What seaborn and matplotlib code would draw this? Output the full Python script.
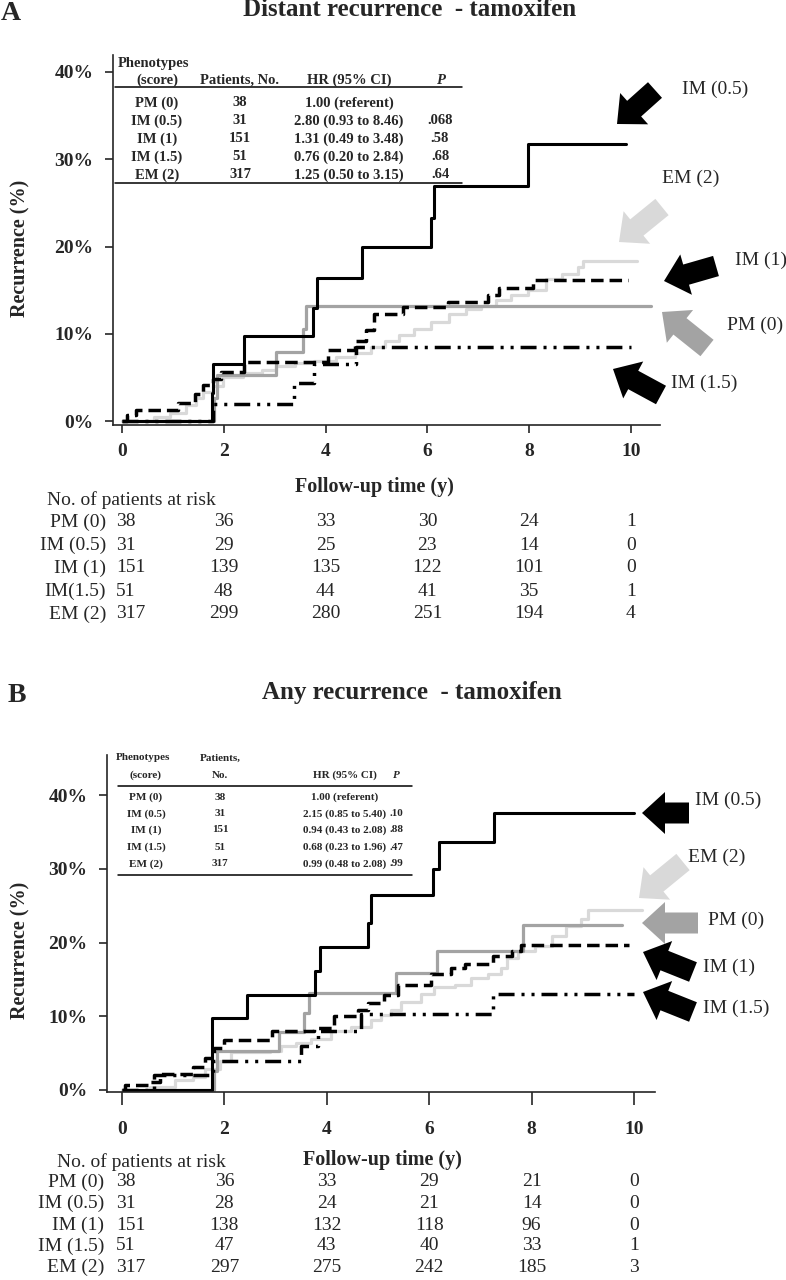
import matplotlib
matplotlib.use("Agg")
import numpy as np
import pandas as pd
import matplotlib.pyplot as plt
import matplotlib.transforms as mtrans
from matplotlib.patches import FancyArrow
import seaborn as sns

# ---------------- data ----------------
groups_a = ["PM (0)", "IM (0.5)", "IM (1)", "IM(1.5)", "EM (2)"]
groups_b = ["PM (0)", "IM (0.5)", "IM (1)", "IM (1.5)", "EM (2)"]
risk_years = [0, 2, 4, 6, 8, 10]
y_ticks = [0, 10, 20, 30, 40]

# Panel A: distant recurrence (years, cumulative %)
a_pm0_t = [0.50, 1.80, 1.86, 3.03, 3.56, 3.62, 10.39]
a_pm0_y = [0.0, 2.6, 5.3, 7.9, 10.5, 13.2, 13.2]
a_im05_t = [0.27, 1.76, 1.79, 2.40, 3.75, 3.84, 4.72, 6.08, 6.12, 7.97, 9.90]
a_im05_y = [0.0, 3.2, 6.5, 9.7, 12.9, 16.4, 19.9, 23.3, 26.9, 31.8, 31.8]
a_im1_t = [0.00, 0.09, 0.27, 1.11, 1.44, 1.60, 1.79, 1.95, 2.40, 4.05, 4.58, 4.79, 4.96, 5.52, 6.40, 7.20, 7.41, 8.08, 9.94]
a_im1_y = [0.0, 0.65, 1.3, 2.1, 3.1, 4.1, 4.8, 5.6, 6.8, 8.1, 9.2, 10.4, 12.3, 13.1, 13.6, 14.4, 15.3, 16.2, 16.2]
a_im15_t = [0.0, 1.78, 3.38, 3.77, 4.60, 10.0]
a_im15_y = [0.0, 2.0, 4.3, 6.5, 8.5, 8.5]
a_em2_t = [0.0, 0.62, 0.95, 1.25, 1.45, 1.60, 1.79, 1.98, 2.37, 2.75, 3.03, 3.40, 3.77, 4.20, 4.58, 4.90,
           5.17, 5.45, 5.73, 6.08, 6.43, 6.75, 7.06, 7.34, 7.65, 7.97, 8.33, 8.65, 8.96, 9.06, 10.11]
a_em2_y = [0.0, 0.5, 0.9, 1.8, 2.6, 3.3, 4.0, 5.0, 5.5, 5.9, 6.3, 6.6, 6.9, 7.3, 7.8, 8.5,
           9.2, 9.8, 10.5, 11.3, 12.3, 12.8, 13.2, 13.9, 14.4, 15.0, 16.3, 16.9, 17.6, 18.3, 18.3]

# Panel B: any recurrence
b_pm0_t = [0.50, 1.80, 1.86, 3.07, 3.56, 3.65, 5.35, 6.15, 7.83, 9.76]
b_pm0_y = [0.0, 2.6, 5.3, 7.9, 10.5, 13.2, 15.8, 18.9, 22.4, 22.4]
b_im05_t = [0.30, 1.76, 2.44, 3.77, 3.87, 4.80, 4.86, 6.08, 6.19, 7.27, 10.0]
b_im05_y = [0.0, 9.7, 12.9, 16.1, 19.4, 22.6, 26.5, 30.0, 33.6, 37.5, 37.5]
b_im1_t = [0.0, 0.06, 0.55, 0.75, 1.38, 1.63, 1.80, 1.99, 2.93, 3.75, 4.14, 4.60, 4.80, 5.12, 5.39, 6.04, 6.43, 6.69, 7.25, 7.61, 7.80, 9.90]
b_im1_y = [0.0, 0.7, 1.1, 2.2, 3.1, 4.4, 5.7, 6.8, 8.0, 8.4, 10.0, 10.9, 11.8, 12.9, 14.3, 15.7, 16.6, 17.1, 18.2, 18.9, 19.6, 19.6]
b_im15_t = [0.0, 0.62, 1.78, 3.49, 3.82, 4.67, 7.25, 10.0]
b_im15_y = [0.0, 2.0, 3.9, 5.9, 8.0, 10.3, 13.0, 13.0]
b_em2_t = [0.0, 0.55, 1.04, 1.38, 1.63, 1.92, 2.12, 2.50, 2.90, 3.10, 3.40, 3.69, 4.08, 4.48, 4.86, 5.05, 5.25,
           5.45, 5.84, 6.10, 6.50, 6.82, 7.15, 7.41, 7.51, 7.74, 8.07, 8.40, 8.68, 8.96, 9.10, 10.15]
b_em2_y = [0.0, 0.4, 1.3, 1.8, 2.9, 4.0, 5.1, 5.2, 5.3, 6.0, 6.4, 6.9, 8.0, 8.6, 9.5, 10.2, 10.9,
           12.0, 13.0, 13.9, 14.3, 15.2, 15.7, 16.6, 17.9, 18.9, 19.5, 20.9, 22.3, 23.2, 24.4, 24.4]

# Patients at risk
risk_a = [[38, 36, 33, 30, 24, 1],
          [31, 29, 25, 23, 14, 0],
          [151, 139, 135, 122, 101, 0],
          [51, 48, 44, 41, 35, 1],
          [317, 299, 280, 251, 194, 4]]
risk_b = [[38, 36, 33, 29, 21, 0],
          [31, 28, 24, 21, 14, 0],
          [151, 138, 132, 118, 96, 0],
          [51, 47, 43, 40, 33, 1],
          [317, 297, 275, 242, 185, 3]]

# Hazard-ratio tables
hr_patients = ["38", "31", "151", "51", "317"]
hr_a = ["1.00 (referent)", "2.80 (0.93 to 8.46)", "1.31 (0.49 to 3.48)", "0.76 (0.20 to 2.84)", "1.25 (0.50 to 3.15)"]
p_a = ["", ".068", ".58", ".68", ".64"]
hr_b = ["1.00 (referent)", "2.15 (0.85 to 5.40)", "0.94 (0.43 to 2.08)", "0.68 (0.23 to 1.96)", "0.99 (0.48 to 2.08)"]
p_b = ["", ".10", ".88", ".47", ".99"]

# ---------------- style ----------------
sns.set_theme(style="ticks")
plt.rcParams['font.family'] = ['Liberation Serif', 'DejaVu Serif']
plt.rcParams['lines.scale_dashes'] = False
plt.rcParams['axes.linewidth'] = 1.2

BLACK = "#000000"
GRAY = "#a3a3a3"
LIGHT = "#d9d9d9"
DASH = (0, (9, 4.3))
DASHDOT = (0, (11.5, 5, 2.2, 5, 2.2, 5))

W, H = 786, 1280
fig = plt.figure(figsize=(W / 100, H / 100), dpi=100)
fig.patch.set_facecolor("white")


def px_axes(l, t, r, b):
    return fig.add_axes([l / W, 1 - b / H, (r - l) / W, (b - t) / H])


ov = fig.add_axes([0, 0, 1, 1], zorder=10)
ov.set_xlim(0, W)
ov.set_ylim(H, 0)
ov.axis("off")
ov.patch.set_alpha(0)


def curve(ax, t, y, color, lw, ls):
    df = pd.DataFrame({"t": t, "y": y})
    sns.lineplot(data=df, x="t", y="y", ax=ax, drawstyle="steps-post", color=color,
                 linewidth=lw, linestyle=ls, estimator=None, sort=False, legend=False)


def arrow(tail, tip, color):
    ov.add_patch(FancyArrow(tail[0], tail[1], tip[0] - tail[0], tip[1] - tail[1], width=21,
                            head_width=42, head_length=23, length_includes_head=True,
                            color=color, lw=0))


def setup_axes(ax, xlim, ylim, xpad, xticklen):
    ax.set_xlim(*xlim)
    ax.set_ylim(*ylim)
    ax.set_facecolor("none")
    sns.despine(ax=ax)
    ax.set_xticks(risk_years, labels=[str(v) for v in risk_years], fontweight="bold", fontsize=14)
    ax.set_yticks(y_ticks, labels=[f"{v}%" for v in y_ticks], fontweight="bold", fontsize=14)
    ax.tick_params(axis="x", length=xticklen, width=1.2, pad=xpad, direction="out")
    ax.tick_params(axis="y", length=6, width=1.2, pad=8, direction="out")
    ax.grid(False)


def panel(ax, curves, letter, letter_xy, title, title_xy, ylabel_y, xlabel_xy,
          hr, pv, table, risk, risk_labels, risk_rows_y, risk_head_xy, label_right, first_left,
          arrows, fs_table):
    for t, y, c, lw, ls in curves:
        curve(ax, t, y, c, lw, ls)
    ov.text(*letter_xy, letter, fontsize=20, fontweight="bold", ha="left", va="center")
    ov.text(*title_xy, title, fontsize=18, fontweight="bold", ha="center", va="center")
    pos = ax.get_position()
    l, r = pos.x0 * W, pos.x1 * W
    top, bot = (1 - pos.y1) * H, (1 - pos.y0) * H
    ax.set_ylabel("Recurrence (%)", fontsize=14.5, fontweight="bold", va="center", ha="center")
    ax.yaxis.set_label_coords((20 - l) / (r - l), (bot - ylabel_y) / (bot - top))
    ax.set_xlabel("Follow-up time (y)", fontsize=14.5, fontweight="bold", va="center", ha="center")
    ax.xaxis.set_label_coords((xlabel_xy[0] - l) / (r - l), (bot - xlabel_xy[1]) / (bot - top))
    tb = table
    for txt, x, y, ha in tb["header"]:
        style = "italic" if txt == "P" else "normal"
        ov.text(x, y, txt, fontsize=fs_table, fontweight="bold", ha=ha, va="center", style=style)
    ov.plot([tb["x0"], tb["x1"]], [tb["line1"], tb["line1"]], color="black", lw=1.1)
    ov.plot([tb["x0"], tb["x1"]], [tb["line2"], tb["line2"]], color="black", lw=1.1)
    for i, g in enumerate(groups_b):
        yy = tb["rows"][i]
        ov.text(tb["cols"][0], yy, g, fontsize=fs_table, fontweight="bold", ha="center", va="center")
        ov.text(tb["cols"][1], yy, hr_patients[i], fontsize=fs_table, fontweight="bold", ha="center", va="center")
        ov.text(tb["cols"][2], yy, hr[i], fontsize=fs_table, fontweight="bold", ha="center", va="center")
        ov.text(tb["cols"][3], yy, pv[i], fontsize=fs_table, fontweight="bold", ha="center", va="center")
    trans = mtrans.blended_transform_factory(ax.transData, ov.transData)
    ov.text(*risk_head_xy, "No. of patients at risk", fontsize=14, ha="left", va="center")
    for i, lab in enumerate(risk_labels):
        yy = risk_rows_y[i]
        ov.text(label_right, yy, lab, fontsize=14, ha="right", va="center")
        for j, yr in enumerate(risk_years):
            if j == 0:
                ax.text(yr + first_left, yy, str(risk[i][j]), fontsize=14, ha="left", va="center",
                        transform=trans, clip_on=False)
            else:
                ax.text(yr, yy, str(risk[i][j]), fontsize=14, ha="center", va="center",
                        transform=trans, clip_on=False)
    for tail, tip, c, lab, lab_xy in arrows:
        arrow(tail, tip, c)
        ov.text(*lab_xy, lab, fontsize=14, ha="left", va="center")


# ---------------- panel A ----------------
axA = px_axes(113, 55, 660, 425)
setup_axes(axA, (-9 / 50.9, 538 / 50.9), (-4 / 8.725, 366 / 8.725), 7, 6)
curves_a = [
    (a_em2_t, a_em2_y, LIGHT, 2.3, "-"),
    (a_pm0_t, a_pm0_y, GRAY, 2.3, "-"),
    (a_im15_t, a_im15_y, BLACK, 2.5, DASHDOT),
    (a_im1_t, a_im1_y, BLACK, 2.5, DASH),
    (a_im05_t, a_im05_y, BLACK, 2.2, "-"),
]
table_a = dict(
    header=[("Phenotypes", 118, 63, "left"), ("(score)", 157, 80, "center"),
            ("Patients, No.", 240, 80, "center"), ("HR (95% CI)", 349, 80, "center"),
            ("P", 440, 80, "center")],
    x0=115, x1=462, line1=87, line2=183,
    rows=[103, 121, 139, 157, 175], cols=[157, 240, 349, 440])
arrows_a = [
    ((655, 90), (617, 124), BLACK, "IM (0.5)", (682, 89)),
    ((662, 207), (619, 242), LIGHT, "EM (2)", (662, 178)),
    ((716, 266), (664, 281), BLACK, "IM (1)", (735, 260)),
    ((707, 348), (662, 312), GRAY, "PM (0)", (727, 325)),
    ((661, 395), (613, 369), BLACK, "IM (1.5)", (671, 383)),
]
panel(axA, curves_a, "A", (1, 14), "Distant recurrence  - tamoxifen", (410, 10), 248, (374, 487),
      hr_a, p_a, table_a, risk_a, groups_a, [522, 545, 568, 591, 614], (47, 500), 106, -0.12,
      arrows_a, 10.5)

# ---------------- panel B ----------------
axB = px_axes(107, 755, 655, 1092)
setup_axes(axB, (-15 / 51.2, 533 / 51.2), (-2 / 7.375, 335 / 7.375), 12, 9)
curves_b = [
    (b_em2_t, b_em2_y, LIGHT, 2.3, "-"),
    (b_pm0_t, b_pm0_y, GRAY, 2.3, "-"),
    (b_im15_t, b_im15_y, BLACK, 2.5, DASHDOT),
    (b_im1_t, b_im1_y, BLACK, 2.5, DASH),
    (b_im05_t, b_im05_y, BLACK, 2.2, "-"),
]
table_b = dict(
    header=[("Phenotypes", 116, 758, "left"), ("Patients,", 220, 758, "center"),
            ("(score)", 146, 775, "center"), ("No.", 220, 775, "center"),
            ("HR (95% CI)", 345, 775, "center"), ("P", 396, 775, "center")],
    x0=118, x1=412, line1=786, line2=875,
    rows=[797, 814, 830, 847, 864], cols=[146, 220, 345, 396])
arrows_b = [
    ((689, 813), (642, 813), BLACK, "IM (0.5)", (695, 800)),
    ((683, 862), (639, 898), LIGHT, "EM (2)", (688, 857)),
    ((698, 923), (642, 923), GRAY, "PM (0)", (708, 920)),
    ((693, 972), (643, 952), BLACK, "IM (1)", (703, 967)),
    ((693, 1012), (643, 992), BLACK, "IM (1.5)", (703, 1008)),
]
panel(axB, curves_b, "B", (8, 695), "Any recurrence  - tamoxifen", (412, 693), 950, (382, 1160),
      hr_b, p_b, table_b, risk_b, groups_b, [1182, 1203, 1225, 1246, 1267], (57, 1162), 104, -0.12,
      arrows_b, 8)

fig.savefig("out.png", dpi=100, facecolor="white")
